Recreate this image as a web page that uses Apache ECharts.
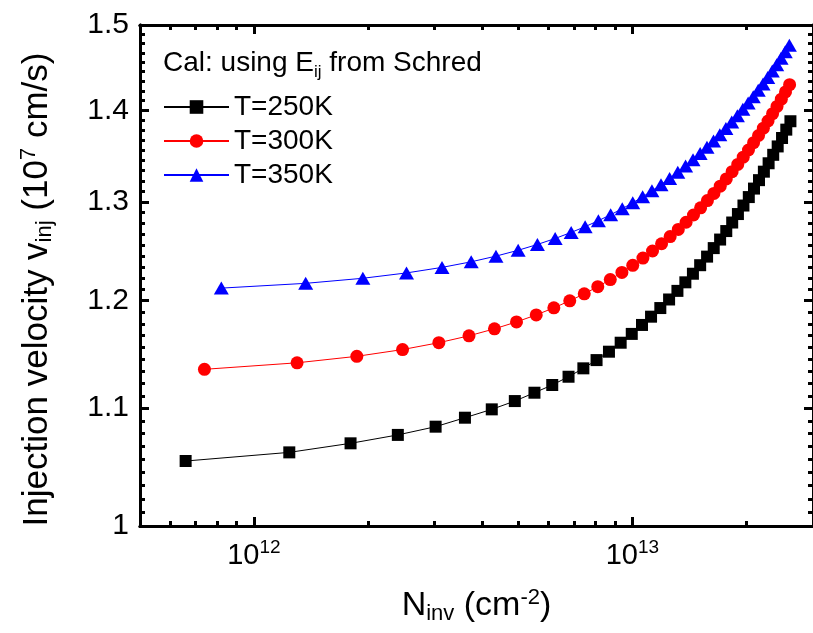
<!DOCTYPE html>
<html><head><meta charset="utf-8">
<script src="https://cdn.jsdelivr.net/npm/echarts@6/dist/echarts.min.js"></script>
<style>html,body{margin:0;padding:0;background:#fff}#c{width:813px;height:633px}</style>
</head><body><div id="c"></div>
<script>
// N_inv in units of 1e12 cm^-2, v_inj in 1e7 cm/s
const N250 = [0.66,1.24,1.80,2.40,3.02,3.61,4.25,4.89,5.51,6.14,6.78,7.42,8.04,8.67,9.31,9.96,10.6,11.2,11.85,12.5,13.15,13.8,14.45,15.1,15.75,16.4,17.05,17.7,18.35,19.0,19.65,20.3,20.95,21.6,22.25,22.9,23.55,24.2,24.85,25.5,26.15];
const V250 = [1.0540,1.0614,1.0692,1.0765,1.0837,1.0916,1.0990,1.1064,1.1139,1.1209,1.1284,1.1361,1.1437,1.1515,1.1599,1.1682,1.1767,1.1846,1.1929,1.2012,1.2096,1.2180,1.2265,1.2350,1.2436,1.2522,1.2609,1.2696,1.2784,1.2872,1.2961,1.3050,1.3140,1.3230,1.3321,1.3412,1.3504,1.3596,1.3689,1.3782,1.3876];
const N300 = [0.74,1.30,1.87,2.47,3.08,3.70,4.32,4.94,5.57,6.20,6.83,7.46,8.10,8.74,9.38,10.02,10.66,11.30,11.94,12.58,13.22,13.86,14.50,15.14,15.78,16.42,17.06,17.70,18.34,18.98,19.62,20.26,20.90,21.54,22.18,22.82,23.46,24.10,24.74,25.38,26.02];
const V300 = [1.1352,1.1412,1.1472,1.1535,1.1599,1.1664,1.1730,1.1796,1.1863,1.1931,1.1999,1.2067,1.2137,1.2207,1.2278,1.2349,1.2421,1.2493,1.2566,1.2639,1.2713,1.2787,1.2862,1.2937,1.3013,1.3089,1.3166,1.3243,1.3321,1.3399,1.3478,1.3557,1.3637,1.3717,1.3798,1.3879,1.3961,1.4043,1.4126,1.4209,1.4293];
const N350 = [0.82,1.37,1.94,2.53,3.14,3.75,4.36,4.99,5.61,6.25,6.89,7.50,8.13,8.76,9.40,10.02,10.64,11.26,11.90,12.54,13.18,13.82,14.46,15.10,15.74,16.38,17.02,17.66,18.30,18.94,19.58,20.22,20.86,21.50,22.14,22.78,23.42,24.06,24.70,25.34,25.98];
const V350 = [1.2123,1.2170,1.2220,1.2273,1.2328,1.2384,1.2441,1.2500,1.2559,1.2620,1.2682,1.2741,1.2803,1.2865,1.2928,1.2990,1.3053,1.3116,1.3182,1.3248,1.3315,1.3382,1.3450,1.3518,1.3587,1.3656,1.3726,1.3796,1.3867,1.3938,1.4010,1.4082,1.4155,1.4228,1.4302,1.4376,1.4451,1.4526,1.4602,1.4678,1.4755];
const seriesNames = ['T=250K','T=300K','T=350K'];
const xMajorTicks = [1e12, 1e13];
const xMinorTicks = [6e11,7e11,8e11,9e11,2e12,3e12,4e12,5e12,6e12,7e12,8e12,9e12,2e13];
const yMajorTicks = [1.0,1.1,1.2,1.3,1.4,1.5];
const xRange = [5e11, 3e13];
const yRange = [1.0, 1.5];

const L = Math.log10;
const FONT = 'Liberation Sans, Arial, sans-serif';
const yMinorTicks = [];
for (let i = 0; i < yMajorTicks.length - 1; i++) {
  const a = yMajorTicks[i], b = yMajorTicks[i+1];
  for (let j = 1; j <= 8; j++) yMinorTicks.push(a + (b - a) * j / 9);
}
function pts(N, V) { return N.map((n, i) => [L(n * 1e12), L(V[i])]); }

function xAx(pos, ticks, len, lab) {
  const ax = {
    type: 'value', position: pos, min: L(xRange[0]), max: L(xRange[1]),
    axisLine: { show: true, onZero: false, lineStyle: { color: '#000', width: 3 } },
    axisTick: { show: true, inside: true, length: len, customValues: ticks.map(L), lineStyle: { color: '#000', width: 3 } },
    axisLabel: { show: false }, splitLine: { show: false }
  };
  if (lab) {
    ax.axisLabel = {
      show: true, customValues: xMajorTicks.map(L), margin: 12, color: '#000',
      fontFamily: FONT, fontSize: 29,
      formatter: v => '{b|10}{s|' + Math.round(v) + '}',
      rich: { b: { fontSize: 29, fontFamily: FONT, color: '#000' },
              s: { fontSize: 19, fontFamily: FONT, color: '#000', padding: [0, 0, 16, 0] } }
    };
    ax.name = 'N{sub|inv} (cm{sup|-2})';
    ax.nameLocation = 'middle';
    ax.nameGap = 61;
    ax.nameTextStyle = {
      fontSize: 34, fontFamily: FONT, color: '#000',
      rich: { sub: { fontSize: 22, fontFamily: FONT, color: '#000', padding: [16, 0, 0, 0] },
              sup: { fontSize: 22, fontFamily: FONT, color: '#000', padding: [0, 0, 16, 0] } }
    };
  }
  return ax;
}
function yAx(pos, ticks, len, lab) {
  const ax = {
    type: 'value', position: pos, min: L(yRange[0]), max: L(yRange[1]),
    axisLine: { show: true, onZero: false, lineStyle: { color: '#000', width: 3 } },
    axisTick: { show: true, inside: true, length: len, customValues: ticks.map(L), lineStyle: { color: '#000', width: 3 } },
    axisLabel: { show: false }, splitLine: { show: false }
  };
  if (lab) {
    ax.axisLabel = {
      show: true, customValues: yMajorTicks.map(L), margin: 11, color: '#000',
      fontFamily: FONT, fontSize: 30,
      formatter: v => {
        let best = yMajorTicks[0];
        yMajorTicks.forEach(t => { if (Math.abs(L(t) - v) < Math.abs(L(best) - v)) best = t; });
        return String(parseFloat(best.toFixed(1)));
      }
    };
    ax.name = 'Injection velocity v{sub|inj} (10{sup|7} cm/s)';
    ax.nameLocation = 'middle';
    ax.nameGap = 84;
    ax.nameRotate = 90;
    ax.nameTextStyle = {
      fontSize: 35, fontFamily: FONT, color: '#000', padding: [0, 28, 0, 0],
      rich: { sub: { fontSize: 22, fontFamily: FONT, color: '#000', padding: [16, 0, 0, 0] },
              sup: { fontSize: 22, fontFamily: FONT, color: '#000', padding: [0, 0, 16, 0] } }
    };
  }
  return ax;
}

const chart = echarts.init(document.getElementById('c'), null, { renderer: 'canvas' });
const mk = (name, N, V, color, symbol, size) => ({
  name, type: 'line', xAxisIndex: 0, yAxisIndex: 0, data: pts(N, V),
  symbol, symbolSize: size, showAllSymbol: true,
  lineStyle: { color, width: 1 }, itemStyle: { color, borderWidth: 0 },
  emphasis: { disabled: true }, clip: false, z: 3
});
chart.setOption({
  animation: false,
  backgroundColor: '#fff',
  grid: { left: 140, top: 25, width: 679, height: 501, containLabel: false },
  title: {
    text: 'Cal: using E{sub|ij} from Schred', left: 158, top: 41,
    textStyle: { fontSize: 28, fontWeight: 'normal', fontFamily: FONT, color: '#000',
      rich: { sub: { fontSize: 17, fontFamily: FONT, color: '#000', padding: [18, 0, 0, 0] } } }
  },
  legend: {
    orient: 'vertical', left: 158, top: 88, itemWidth: 65, itemHeight: 17, itemGap: 6,
    data: seriesNames,
    textStyle: { fontSize: 28, fontFamily: FONT, color: '#000' },
    selectedMode: false
  },
  xAxis: [ xAx('bottom', xMajorTicks, 9, true), xAx('bottom', xMinorTicks, 5, false),
           xAx('top', xMajorTicks, 9, false), xAx('top', xMinorTicks, 5, false) ],
  yAxis: [ yAx('left', yMajorTicks, 9, true), yAx('left', yMinorTicks, 5, false),
           yAx('right', yMajorTicks, 9, false), yAx('right', yMinorTicks, 5, false) ],
  series: [
    mk(seriesNames[0], N250, V250, '#000000', 'rect', 12),
    mk(seriesNames[1], N300, V300, '#ff0000', 'circle', 13),
    mk(seriesNames[2], N350, V350, '#0000ff', 'triangle', [15, 13])
  ]
});
</script></body></html>
